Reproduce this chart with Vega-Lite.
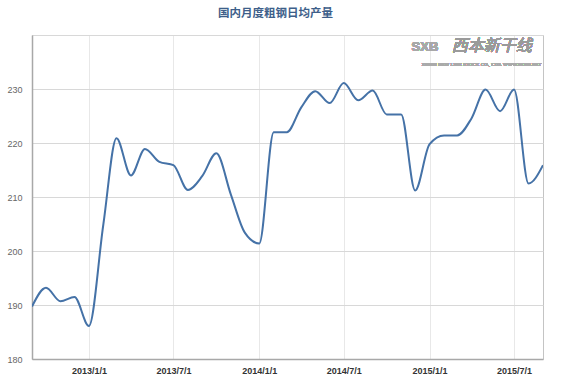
{
  "$schema": "https://vega.github.io/schema/vega-lite/v6.json",
  "autosize": "none",
  "width": 511,
  "height": 324,
  "padding": {"left": 32, "top": 35, "right": 19, "bottom": 25},
  "background": "#ffffff",
  "config": {
    "font": "Liberation Sans",
    "view": {"stroke": "#c4c4c4", "strokeWidth": 1}
  },
  "title": {
    "text": "国内月度粗钢日均产量",
    "font": "Noto Sans CJK SC",
    "fontSize": 11.5,
    "fontWeight": "bold",
    "color": "#3e5f8a",
    "anchor": "middle",
    "dx": -12,
    "offset": 16
  },
  "data": {
    "values": [
      {"date": "2012-09-01", "value": 189.7},
      {"date": "2012-10-01", "value": 193.2},
      {"date": "2012-11-01", "value": 190.7},
      {"date": "2012-12-01", "value": 191.5},
      {"date": "2013-01-01", "value": 186.1},
      {"date": "2013-02-01", "value": 205.0},
      {"date": "2013-03-01", "value": 220.9},
      {"date": "2013-04-01", "value": 214.0},
      {"date": "2013-05-01", "value": 218.9},
      {"date": "2013-06-01", "value": 216.5},
      {"date": "2013-07-01", "value": 215.9},
      {"date": "2013-08-01", "value": 211.3},
      {"date": "2013-09-01", "value": 213.9},
      {"date": "2013-10-01", "value": 218.1},
      {"date": "2013-11-01", "value": 210.5},
      {"date": "2013-12-01", "value": 203.4},
      {"date": "2014-01-01", "value": 201.4},
      {"date": "2014-02-01", "value": 222.0},
      {"date": "2014-03-01", "value": 222.0},
      {"date": "2014-04-01", "value": 226.6},
      {"date": "2014-05-01", "value": 229.6},
      {"date": "2014-06-01", "value": 227.4},
      {"date": "2014-07-01", "value": 231.1},
      {"date": "2014-08-01", "value": 227.9},
      {"date": "2014-09-01", "value": 229.7},
      {"date": "2014-10-01", "value": 225.3},
      {"date": "2014-11-01", "value": 225.3},
      {"date": "2014-12-01", "value": 211.2},
      {"date": "2015-01-01", "value": 219.8},
      {"date": "2015-02-01", "value": 221.4},
      {"date": "2015-03-01", "value": 221.4},
      {"date": "2015-04-01", "value": 224.6},
      {"date": "2015-05-01", "value": 229.9},
      {"date": "2015-06-01", "value": 225.9},
      {"date": "2015-07-01", "value": 229.9},
      {"date": "2015-08-01", "value": 212.5},
      {"date": "2015-09-01", "value": 215.9}
    ]
  },
  "layer": [
    {
      "mark": {"type": "line", "interpolate": "monotone", "color": "#4572A7", "strokeWidth": 2, "clip": true},
      "encoding": {
        "x": {
          "field": "date",
          "type": "temporal",
          "title": null,
          "scale": {
            "type": "utc",
            "domain": [
              {"year": 2012, "month": 9, "date": 1, "utc": true},
              {"year": 2015, "month": 9, "date": 1, "utc": true}
            ]
          },
          "axis": {
            "values": [
              {"year": 2013, "month": 1, "date": 1, "utc": true},
              {"year": 2013, "month": 7, "date": 1, "utc": true},
              {"year": 2014, "month": 1, "date": 1, "utc": true},
              {"year": 2014, "month": 7, "date": 1, "utc": true},
              {"year": 2015, "month": 1, "date": 1, "utc": true},
              {"year": 2015, "month": 7, "date": 1, "utc": true}
            ],
            "labelExpr": "utcFormat(datum.value, '%Y/%-m/%-d')",
            "ticks": false,
            "labelPadding": 7,
            "labelFontSize": 9,
            "labelFontWeight": "bold",
            "labelColor": "#333333",
            "labelFont": "Liberation Sans",
            "domainColor": "#a8a8a8",
            "domainWidth": 1.5,
            "gridColor": "#e8e8e8",
            "labelFlush": false
          }
        },
        "y": {
          "field": "value",
          "type": "quantitative",
          "title": null,
          "scale": {"domain": [180, 240], "nice": false, "zero": false},
          "axis": {
            "values": [180, 190, 200, 210, 220, 230, 240],
            "labelExpr": "datum.value == 240 ? '' : datum.label",
            "ticks": false,
            "labelPadding": 10,
            "labelFontSize": 9,
            "labelColor": "#666666",
            "labelFont": "Liberation Sans",
            "domainColor": "#a8a8a8",
            "domainWidth": 1.5,
            "gridColor": "#d8d8d8",
            "labelFlush": false
          }
        }
      }
    },
    {
      "mark": {"type": "text", "text": "西本新干线", "font": "Noto Sans CJK SC", "fontSize": 16, "fontStyle": "italic", "color": "#9a9a9a", "opacity": 0.85, "align": "center", "baseline": "middle"},
      "encoding": {
        "x": {"datum": {"year": 2015, "month": 5, "date": 14, "utc": true}, "type": "temporal"},
        "y": {"datum": 237.9, "type": "quantitative"}
      }
    },
    {
      "mark": {"type": "text", "text": "XIBEN NEW LINE STOCK CO., LTD.    WWW.96369.NET", "font": "Liberation Serif", "fontSize": 5, "color": "#aaaaaa", "align": "center", "baseline": "middle"},
      "encoding": {
        "x": {"datum": {"year": 2015, "month": 4, "date": 22, "utc": true}, "type": "temporal"},
        "y": {"datum": 234.7, "type": "quantitative"}
      }
    },
    {
      "mark": {"type": "text", "text": "SXB", "font": "Liberation Sans", "fontSize": 13, "fontWeight": "bold", "color": "#a8a8a8", "opacity": 0.8, "align": "center", "baseline": "middle"},
      "encoding": {
        "x": {"datum": {"year": 2014, "month": 12, "date": 22, "utc": true}, "type": "temporal"},
        "y": {"datum": 237.8, "type": "quantitative"}
      }
    }
  ]
}
